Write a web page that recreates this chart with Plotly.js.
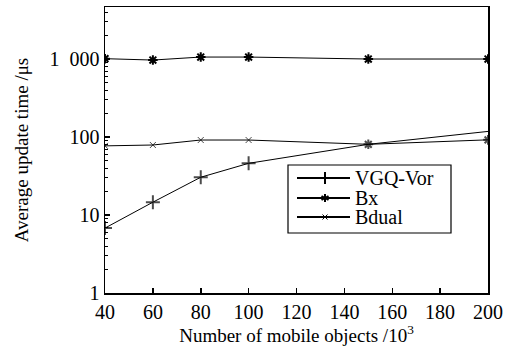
<!DOCTYPE html>
<html>
<head>
<meta charset="utf-8">
<script src="https://cdn.plot.ly/plotly-3.0.1.min.js"></script>
<style>html,body{margin:0;padding:0;background:#fff;}#chart{width:510px;height:349px;}</style>
</head>
<body>
<div id="chart"></div>
<script>
var xValues = [40, 60, 80, 100, 150, 200];
var vgqVor = [6.8, 14.6, 30.5, 46, 80.6, 118];
var bx = [1010, 970, 1060, 1060, 1000, 1000];
var bdual = [77, 79, 91.5, 91.5, 80.6, 92];
var seriesNames = ['VGQ-Vor', 'Bx', 'Bdual'];
var yTickVals = [1, 10, 100, 1000];
var yTickText = ['1', '10', '100', '1\u2002000'];
var xTickVals = [40, 60, 80, 100, 120, 140, 160, 180, 200];

var minorVals = [];
yTickVals.forEach(function(d){ for (var k = 2; k <= 9; k++) minorVals.push(d * k); });

function mkFont(s){ return {family: 'Liberation Serif', size: s || 20, color: 'black'}; }

var traces = [
  {x: xValues, y: vgqVor, name: seriesNames[0], mode: 'lines+markers',
   line: {color: '#000', width: 1},
   marker: {symbol: 'cross-thin-open', size: [10, 10, 10, 10, 0, 0], color: '#000', line: {color: '#000', width: 2}}},
  {x: xValues, y: bx, name: seriesNames[1], mode: 'lines+markers',
   line: {color: '#000', width: 1},
   marker: {symbol: 'asterisk-open', size: 8, color: '#000', line: {color: '#000', width: 2}}},
  {x: xValues, y: bdual, name: seriesNames[2], mode: 'lines+markers',
   line: {color: '#000', width: 1},
   marker: {symbol: ['x-thin-open', 'x-thin-open', 'x-thin-open', 'x-thin-open', 'asterisk-open', 'asterisk-open'],
            size: [6, 6, 6, 6, 8, 8], color: '#000', line: {color: '#000', width: [1, 1, 1, 1, 2, 2]}}}
];

// Manual legend (layout-level drawing in paper coordinates)
var L = 105, R = 488, T = 7, B = 293;
function px(x){ return (x - L) / (R - L); }
function py(y){ return (B - y) / (B - T); }
var shapes = [];
var annotations = [];
shapes.push({type: 'rect', xref: 'paper', yref: 'paper', x0: px(288), x1: px(451), y0: py(233), y1: py(165),
             line: {color: '#000', width: 1.2}, fillcolor: '#fff', layer: 'above'});
var rowY = [178, 198, 217];
var mx = 325;
seriesNames.forEach(function(name, i){
  var y = rowY[i];
  shapes.push({type: 'line', xref: 'paper', yref: 'paper', x0: px(297), x1: px(350), y0: py(y), y1: py(y),
               line: {color: '#000', width: 2}, layer: 'above'});
  var segs;
  if (i === 0) {
    segs = [[0, -6, 0, 6]];
  } else if (i === 1) {
    segs = [[0, -4, 0, 4], [-3.5, -2, 3.5, 2], [-3.5, 2, 3.5, -2]];
  } else {
    segs = [[-2.5, -2.5, 2.5, 2.5], [-2.5, 2.5, 2.5, -2.5]];
  }
  segs.forEach(function(s){
    shapes.push({type: 'line', xref: 'paper', yref: 'paper',
                 x0: px(mx + s[0]), y0: py(y + s[1]), x1: px(mx + s[2]), y1: py(y + s[3]),
                 line: {color: '#000', width: i === 2 ? 1 : 2}, layer: 'above'});
  });
  annotations.push({xref: 'paper', yref: 'paper', x: px(353), y: py(y), xanchor: 'left', yanchor: 'middle',
                    text: name, showarrow: false, font: mkFont(20)});
});

var layout = {
  width: 510, height: 349,
  margin: {l: L, r: 510 - R, t: T, b: 349 - B},
  showlegend: false,
  shapes: shapes,
  annotations: annotations,
  xaxis: {range: [40, 200], tickmode: 'array', tickvals: xTickVals,
          ticks: 'inside', ticklen: 5, tickcolor: '#000', tickwidth: 1.5,
          showline: true, linecolor: '#000', linewidth: 1.5, mirror: true,
          showgrid: false, zeroline: false, tickfont: mkFont(20),
          title: {text: 'Number of mobile objects /10<sup>3</sup>', font: mkFont(19), standoff: 2}},
  yaxis: {type: 'log', range: [0, 3.667], tickmode: 'array', tickvals: yTickVals, ticktext: yTickText,
          ticks: 'inside', ticklen: 5, tickcolor: '#000', tickwidth: 1.5,
          minor: {tickmode: 'array', tickvals: minorVals, ticks: 'inside', ticklen: 3, tickcolor: '#000', tickwidth: 1, showgrid: false},
          showline: true, linecolor: '#000', linewidth: 1.5, mirror: true,
          showgrid: false, zeroline: false, tickfont: mkFont(20),
          title: {text: 'Average update time /μs', font: mkFont(19), standoff: 16}}
};

Plotly.newPlot('chart', traces, layout, {staticPlot: true});
</script>
</body>
</html>
